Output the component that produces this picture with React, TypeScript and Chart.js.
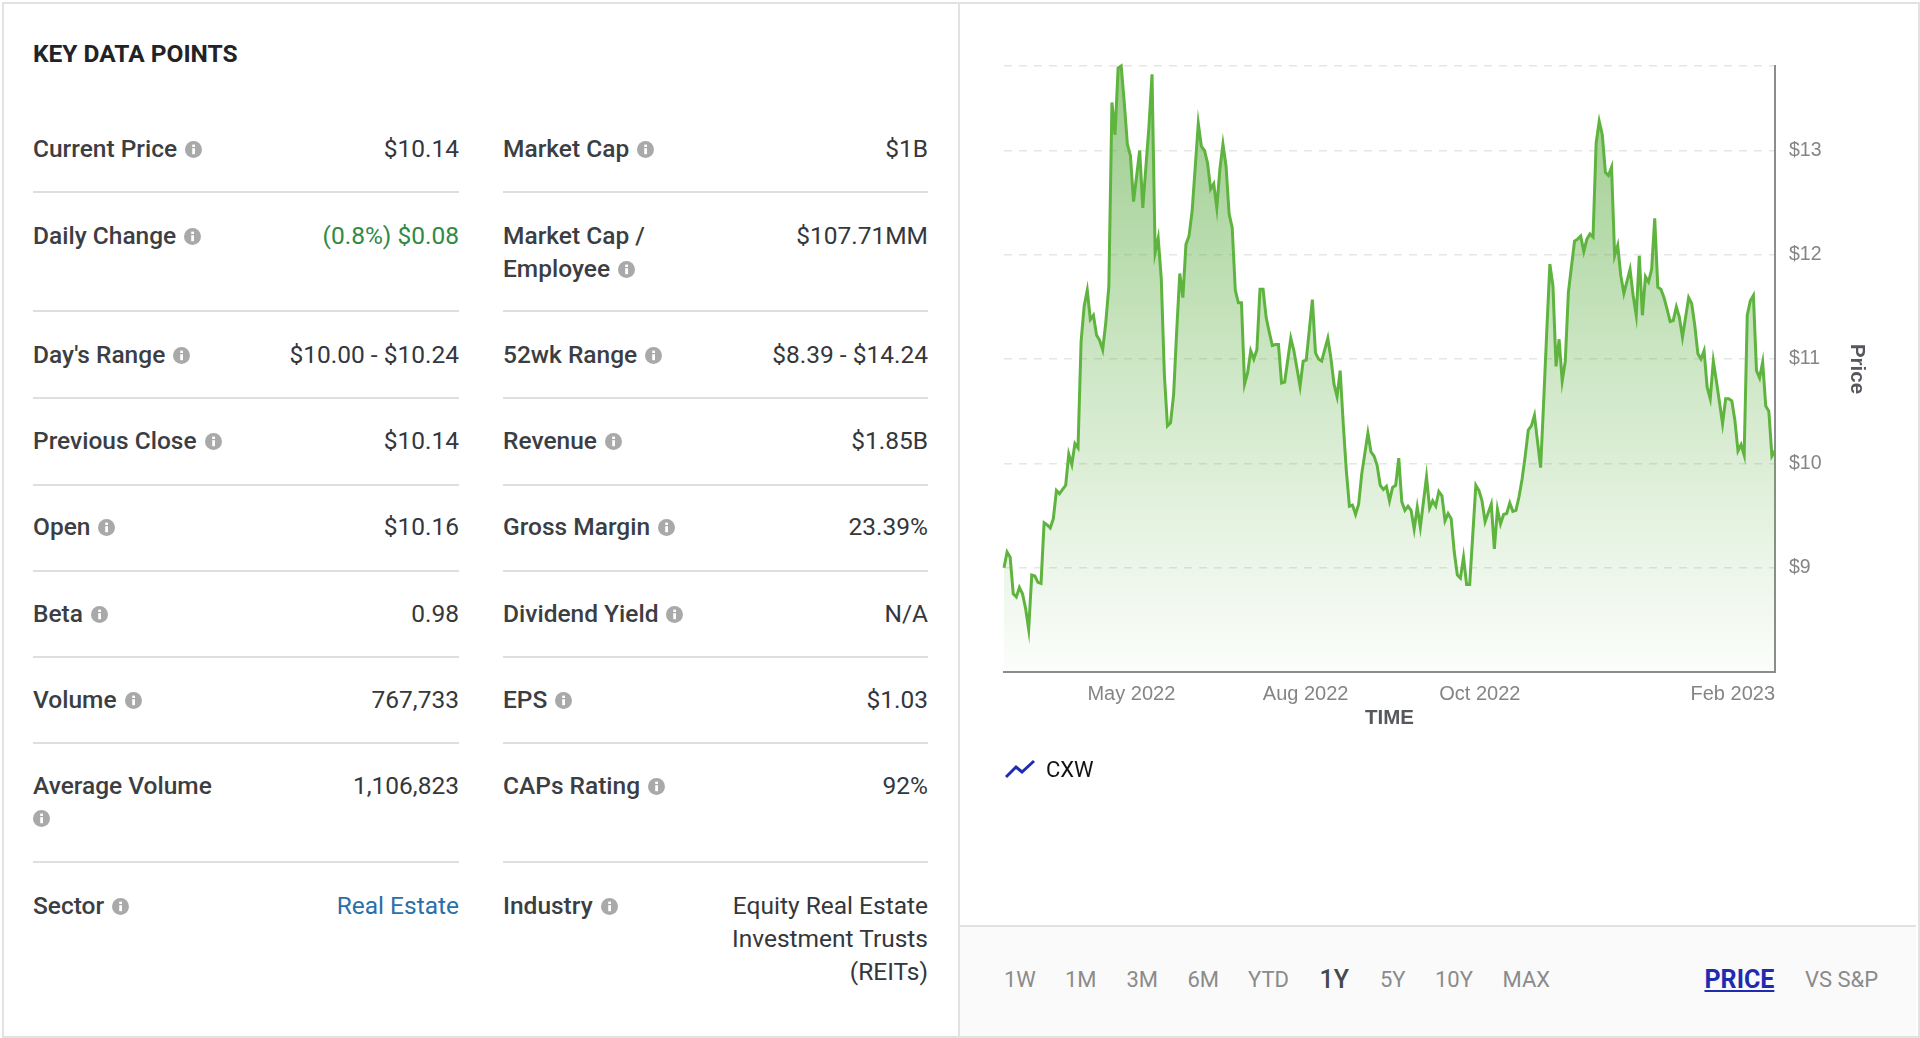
import React, { useEffect, useRef } from "react";
import { Chart, registerables } from "chart.js";

Chart.register(...registerables);

const tradingDays = [0,1,2,3,4,5,6,7,8,9,10,11,12,13,14,15,16,17,18,19,20,21,22,23,24,25,26,27,28,29,30,31,32,33,34,35,36,37,38,39,40,41,42,44,45,47,48,49,50,51,52,53,54,55,56,57,58,59,60,61,63,64,65,66,67,68,69,70,71,72,73,74,75,76,77,78,79,80,81,82,83,84,85,86,87,88,89,90,91,93,94,96,97,98,100,101,102,103,105,106,107,108,109,110,111,112,113,114,115,116,118,119,120,121,122,123,124,125,126,127,128,129,130,131,132,133,134,135,137,138,139,140,141,142,143,144,145,146,147,148,149,150,151,153,154,155,156,158,159,160,161,162,163,164,165,166,167,168,169,170,171,172,174,175,176,177,178,179,180,181,182,183,185,186,187,188,189,190,191,192,193,194,195,196,197,198,199,200,201,203,204,205,206,207,208,209,210,211,212,213,214,215,216,217,218,219,220,222,223,224,225,226,227,228,229,230,231,233,234,235,236,237,238,239,240,241,242,243,244,245,246,247,248,249,250];

const prices = [9.0,9.15,9.1,8.75,8.72,8.81,8.75,8.61,8.41,8.93,8.92,8.86,8.85,9.43,9.41,9.38,9.47,9.74,9.71,9.75,9.79,10.09,9.99,10.19,10.15,11.17,11.51,11.66,11.38,11.42,11.23,11.18,11.09,11.35,11.7,13.46,13.15,13.79,13.81,13.46,13.06,12.95,12.51,13.0,12.45,13.23,13.73,12.02,12.16,11.77,10.85,10.36,10.39,10.66,11.27,11.82,11.59,12.1,12.18,12.42,13.26,13.04,13.0,12.88,12.63,12.68,12.45,12.82,13.06,12.85,12.39,12.26,11.66,11.54,11.54,10.76,10.87,11.08,11.0,11.09,11.67,11.67,11.4,11.26,11.13,11.14,11.14,10.77,10.78,11.2,11.08,10.74,10.98,10.99,11.57,11.06,11.0,10.98,11.2,11.01,10.76,10.64,10.89,10.38,9.93,9.59,9.6,9.51,9.61,9.9,10.29,10.11,10.07,9.98,9.79,9.75,9.78,9.64,9.77,9.79,10.05,9.63,9.55,9.59,9.55,9.37,9.58,9.39,9.87,9.57,9.64,9.59,9.73,9.69,9.45,9.52,9.47,9.15,8.93,8.9,9.1,8.84,8.84,9.79,9.74,9.64,9.44,9.61,9.18,9.56,9.42,9.51,9.52,9.62,9.54,9.55,9.68,9.85,10.07,10.32,10.36,10.46,9.96,10.6,11.27,11.91,11.7,10.93,11.19,10.79,10.98,11.64,12.13,12.15,12.18,12.03,12.15,12.2,12.17,13.07,13.28,13.15,12.79,12.76,12.84,11.99,12.09,11.8,11.63,11.86,11.61,11.42,11.99,11.42,11.79,11.74,11.86,12.35,11.69,11.67,11.59,11.48,11.36,11.37,11.5,11.4,11.21,11.59,11.53,11.32,11.05,11.0,11.08,10.73,10.62,10.98,10.79,10.38,10.62,10.62,10.6,10.41,10.12,10.18,10.08,11.42,11.56,11.61,10.89,10.82,10.97,10.55,10.5,10.07,10.12];

const xTickDays = [0, 41.3, 97.8, 154.3, 250];
const xTickLabels = ["", "May 2022", "Aug 2022", "Oct 2022", "Feb 2023"];
const yTickValues = [9, 10, 11, 12, 13, 13.81];
const yTickLabels = ["$9", "$10", "$11", "$12", "$13", ""];
const rangeTabs = ["1W", "1M", "3M", "6M", "YTD", "1Y", "5Y", "10Y", "MAX"];
const rangeTabLeft = [1004, 1065, 1126.5, 1187.5, 1248, 1319.5, 1380, 1435, 1502.5];

type Row = { y: number; label: string[]; value: string[]; color?: string; iconBelow?: boolean };

const leftRows: Row[] = [
  { y: 148.5, label: ["Current Price"], value: ["$10.14"] },
  { y: 235, label: ["Daily Change"], value: ["(0.8%) $0.08"], color: "#2f8a47" },
  { y: 354, label: ["Day's Range"], value: ["$10.00 - $10.24"] },
  { y: 440.5, label: ["Previous Close"], value: ["$10.14"] },
  { y: 526.5, label: ["Open"], value: ["$10.16"] },
  { y: 613, label: ["Beta"], value: ["0.98"] },
  { y: 699, label: ["Volume"], value: ["767,733"] },
  { y: 785.5, label: ["Average Volume"], value: ["1,106,823"], iconBelow: true },
  { y: 905, label: ["Sector"], value: ["Real Estate"], color: "#2b6fa8" },
];
const rightRows: Row[] = [
  { y: 148.5, label: ["Market Cap"], value: ["$1B"] },
  { y: 235, label: ["Market Cap /", "Employee"], value: ["$107.71MM"] },
  { y: 354, label: ["52wk Range"], value: ["$8.39 - $14.24"] },
  { y: 440.5, label: ["Revenue"], value: ["$1.85B"] },
  { y: 526.5, label: ["Gross Margin"], value: ["23.39%"] },
  { y: 613, label: ["Dividend Yield"], value: ["N/A"] },
  { y: 699, label: ["EPS"], value: ["$1.03"] },
  { y: 785.5, label: ["CAPs Rating"], value: ["92%"] },
  { y: 905, label: ["Industry"], value: ["Equity Real Estate", "Investment Trusts", "(REITs)"] },
];
const separators = [191, 310, 397, 483.5, 570, 656, 742, 861];
const LINE = 33;

const Icon = ({ style }: { style?: React.CSSProperties }) => (
  <svg width="17" height="17" viewBox="0 0 17 17" style={{ display: "inline-block", verticalAlign: "-1px", ...style }}>
    <circle cx="8.5" cy="8.5" r="8.5" fill="#a9a9a9" />
    <rect x="7.2" y="7.2" width="2.8" height="6" fill="#fff" />
    <rect x="7.2" y="3.6" width="2.8" height="2.4" fill="#fff" />
  </svg>
);

const txt = (extra: React.CSSProperties): React.CSSProperties => ({
  position: "absolute",
  whiteSpace: "nowrap",
  lineHeight: "33px",
  ...extra,
});

function Column({ rows, left, right }: { rows: Row[]; left: number; right: number }) {
  return (
    <>
      {rows.map((r) => (
        <React.Fragment key={r.label[0]}>
          {r.label.map((l, i) => (
            <div
              key={l}
              style={txt({ left, top: r.y - 16.5 + i * LINE, fontSize: 24.5, fontWeight: 500, color: "#3b3e43" })}
            >
              {l}
              {i === r.label.length - 1 && !r.iconBelow && <Icon style={{ marginLeft: 8 }} />}
            </div>
          ))}
          {r.iconBelow && <Icon style={{ position: "absolute", left, top: r.y + 24 }} />}
          {r.value.map((v, i) => (
            <div
              key={v}
              style={txt({
                right: 1920 - right,
                top: r.y - 16.5 + i * LINE,
                fontSize: 24.5,
                fontWeight: 400,
                color: r.color ?? "#34373c",
              })}
            >
              {v}
            </div>
          ))}
        </React.Fragment>
      ))}
      {separators.map((y) => (
        <div key={y} style={{ position: "absolute", left, top: y, width: right - left, height: 2, background: "#dedede" }} />
      ))}
    </>
  );
}

export default function App() {
  const canvasRef = useRef<HTMLCanvasElement | null>(null);

  useEffect(() => {
    document.body.style.margin = "0";
    const canvas = canvasRef.current;
    if (!canvas) return;
    const chart = new Chart(canvas, {
      type: "line",
      data: {
        datasets: [
          {
            label: "CXW",
            data: tradingDays.map((d, i) => ({ x: d, y: prices[i] })),
            borderColor: "#5fb43f",
            borderWidth: 3,
            pointRadius: 0,
            tension: 0,
            fill: "start",
            clip: false,
            backgroundColor: (ctx: any) => {
              const area = ctx.chart.chartArea;
              if (!area) return "rgba(95,180,63,0.4)";
              const g = ctx.chart.ctx.createLinearGradient(0, area.top, 0, area.bottom);
              g.addColorStop(0, "rgba(92,170,66,0.62)");
              g.addColorStop(0.5, "rgba(92,175,66,0.3)");
              g.addColorStop(1, "rgba(92,175,66,0.02)");
              return g;
            },
          },
        ],
      },
      options: {
        responsive: false,
        animation: false,
        parsing: false,
        normalized: true,
        layout: { padding: { left: 44, top: 66, bottom: 193, right: 0 } },
        plugins: { legend: { display: false }, tooltip: { enabled: false }, title: { display: false } },
        scales: {
          x: {
            type: "linear",
            min: 0,
            max: 250,
            afterBuildTicks: (s: any) => {
              s.ticks = xTickDays.map((value) => ({ value }));
            },
            afterFit: (s: any) => {
              s.height = 60;
            },
            ticks: {
              autoSkip: false,
              maxRotation: 0,
              align: "inner",
              padding: 10,
              color: "#858585",
              font: { family: "'Liberation Sans'", size: 20 },
              callback: (_v: any, i: number) => xTickLabels[i],
            },
            grid: { display: false, drawTicks: false },
            border: { display: true, color: "#8c8c8c", width: 2 },
            title: {
              display: true,
              text: "TIME",
              color: "#55585d",
              padding: { top: 0, bottom: 1 },
              font: { family: "'Liberation Sans'", size: 20.5, weight: "bold" },
            },
          },
          y: {
            type: "linear",
            position: "right",
            min: 8,
            max: 13.81,
            afterBuildTicks: (s: any) => {
              s.ticks = yTickValues.map((value) => ({ value }));
            },
            afterFit: (s: any) => {
              s.width = 143;
            },
            ticks: {
              padding: 14,
              color: "#858585",
              font: { family: "'Liberation Sans'", size: 19.5 },
              callback: (_v: any, i: number) => yTickLabels[i],
            },
            grid: { color: "#e6e6e6", lineWidth: 1.5, drawTicks: false },
            border: { display: true, color: "#8c8c8c", width: 2, dash: [8, 7] },
            title: {
              display: true,
              text: "Price",
              color: "#55585d",
              padding: { top: 48.7, bottom: 0 },
              font: { family: "'Liberation Sans'", size: 20.5, weight: "bold" },
            },
          },
        },
      },
    } as any);
    return () => chart.destroy();
  }, []);

  return (
    <div
      style={{
        position: "absolute",
        left: 0,
        top: 0,
        width: 1920,
        height: 1038,
        overflow: "hidden",
        background: "#fff",
        fontFamily: "Roboto, sans-serif",
      }}
    >
      <div style={{ position: "absolute", left: 2, top: 2, width: 1914, height: 1032, border: "2px solid #e2e2e2", boxSizing: "content-box" }} />
      <div style={{ position: "absolute", left: 958, top: 2, width: 2, height: 1034, background: "#e2e2e2" }} />
      <div style={{ position: "absolute", left: 960, top: 925, width: 956, height: 109, background: "#fafafa", borderTop: "2px solid #e2e2e2" }} />

      <div style={txt({ left: 33, top: 37, fontSize: 24.5, fontWeight: 700, color: "#212327" })}>KEY DATA POINTS</div>
      <Column rows={leftRows} left={33} right={459} />
      <Column rows={rightRows} left={503} right={928} />

      <canvas ref={canvasRef} width={958} height={925} style={{ position: "absolute", left: 960, top: 0, width: 958, height: 925 }} />

      <svg width="30" height="20" viewBox="0 0 30 20" style={{ position: "absolute", left: 1005, top: 759 }}>
        <polyline points="1,18 11,8 17,13 29,2" fill="none" stroke="#1f2bb0" strokeWidth="3" />
      </svg>
      <div style={txt({ left: 1046, top: 753, fontSize: 22, color: "#111" })}>CXW</div>

      {rangeTabs.map((t, i) => (
        <div
          key={t}
          style={txt({
            left: rangeTabLeft[i],
            top: 963,
            fontSize: t === "1Y" ? 25 : 22,
            fontWeight: t === "1Y" ? 500 : 400,
            color: t === "1Y" ? "#45484d" : "#8b8b8b",
          })}
        >
          {t}
        </div>
      ))}
      <div style={txt({ left: 1704.5, top: 963, fontSize: 25, fontWeight: 700, color: "#1f2bb0", textDecoration: "underline" })}>PRICE</div>
      <div style={txt({ left: 1805, top: 963, fontSize: 22, color: "#8b8b8b" })}>VS S&amp;P</div>
    </div>
  );
}
